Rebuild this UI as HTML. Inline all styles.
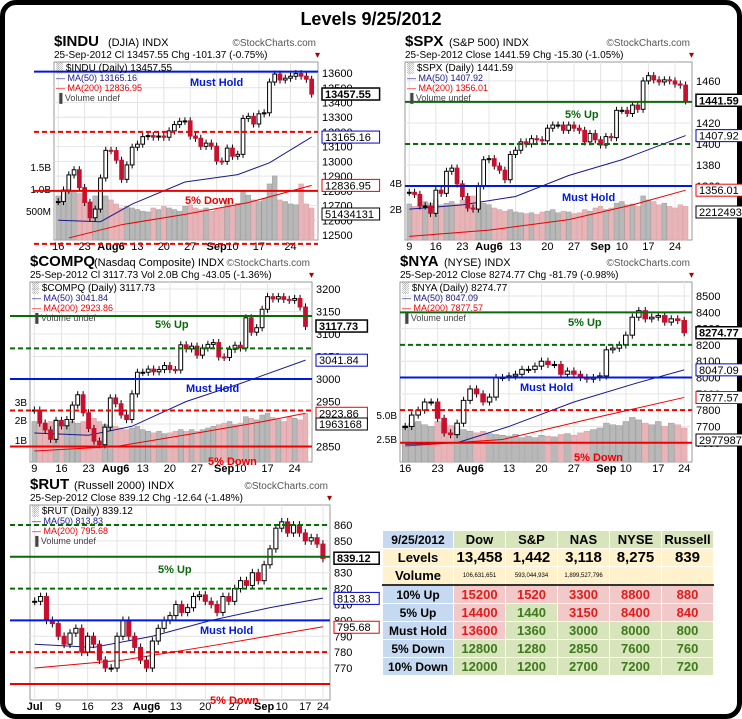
<!DOCTYPE html>
<html><head><meta charset="utf-8">
<style>
body{margin:0;background:#fff;width:742px;height:719px;overflow:hidden;font-family:"Liberation Sans",sans-serif}
#frame{position:absolute;left:0;top:0;width:732px;height:709px;border:5px solid #000;border-radius:16px;background:#fff}
#title{position:absolute;left:0;width:742px;top:9px;text-align:center;font-weight:bold;font-size:18px}
svg{position:absolute;left:0;top:0}
table{position:absolute;left:382px;top:530px;border-collapse:collapse;font-family:"Liberation Sans",sans-serif;font-weight:bold}
td{border:1px solid #fff;text-align:center;padding:0;height:17px;font-size:13px}
.lb{background:#c5d9f1;width:70px;color:#000;font-size:12px}
.hd{background:#d8e4bc;width:51px;font-size:13px}
.lv{background:#fff2cc;font-size:15px}
.vo{background:#fff2cc;font-size:6px;font-weight:normal}
.r{background:#f2c9c9;color:#e31b1b}
.g{background:#d8e4bc;color:#3c7a1a}
</style></head><body>
<div id="frame"></div>
<div id="title">Levels 9/25/2012</div>
<svg id="s" width="742" height="719"></svg>
<table>
<tr><td class="lb" style="background:#c5d9f1">9/25/2012</td><td class="hd">Dow</td><td class="hd">S&amp;P</td><td class="hd">NAS</td><td class="hd">NYSE</td><td class="hd">Russell</td></tr>
<tr><td class="lb" style="background:#fff2cc;font-size:13px">Levels</td><td class="lv">13,458</td><td class="lv">1,442</td><td class="lv">3,118</td><td class="lv">8,275</td><td class="lv">839</td></tr>
<tr style="border-bottom:2px solid #333"><td class="lb" style="background:#fff2cc;font-size:13px">Volume</td><td class="vo">106,631,651</td><td class="vo">593,044,934</td><td class="vo">1,899,527,796</td><td class="vo"></td><td class="vo"></td></tr>
<tr><td class="lb">10% Up</td><td class="r">15200</td><td class="r">1520</td><td class="r">3300</td><td class="r">8800</td><td class="r">880</td></tr>
<tr><td class="lb">5% Up</td><td class="r">14400</td><td class="g">1440</td><td class="r">3150</td><td class="r">8400</td><td class="r">840</td></tr>
<tr><td class="lb">Must Hold</td><td class="r">13600</td><td class="g">1360</td><td class="g">3000</td><td class="g">8000</td><td class="g">800</td></tr>
<tr><td class="lb">5% Down</td><td class="g">12800</td><td class="g">1280</td><td class="g">2850</td><td class="g">7600</td><td class="g">760</td></tr>
<tr><td class="lb">10% Down</td><td class="g">12000</td><td class="g">1200</td><td class="g">2700</td><td class="g">7200</td><td class="g">720</td></tr>
</table>
<script>
// ---- data ----
const induCloses=[12727,12805,12908,12943,12822,12721,12617,12676,12887,13075,13073,13008,12878,12976,13096,13117,13168,13175,13165,13172,13164,13207,13250,13272,13275,13172,13157,13102,13124,13103,13002,13000,13090,13035,13048,13292,13306,13254,13323,13330,13539,13593,13553,13565,13578,13596,13579,13558,13457];
const induVol=[55,60,62,60,58,50,48,55,62,55,50,45,40,42,40,38,36,35,40,38,42,40,38,36,42,44,40,38,40,36,38,40,50,44,46,60,56,50,48,52,70,80,50,48,45,44,70,45,40];
const induMa50=[[0,12600],[8,12590],[14,12710],[24,12860],[34,12910],[40,12990],[48,13165]];
const induMa200=[[2,12480],[12,12570],[24,12640],[36,12720],[48,12837]];
const spxCloses=[1354,1352,1341,1341,1334,1356,1353,1374,1377,1362,1350,1339,1338,1360,1385,1386,1379,1375,1366,1390,1394,1402,1400,1405,1404,1403,1415,1418,1418,1413,1418,1415,1413,1402,1410,1404,1399,1407,1406,1432,1432,1429,1437,1433,1460,1465,1461,1459,1461,1460,1457,1456,1441];
const spxVol=[45,42,44,48,46,50,44,46,48,45,50,52,55,48,46,44,40,38,36,38,35,34,33,34,32,35,36,38,34,36,35,33,34,38,36,40,42,38,40,46,48,44,45,42,55,50,48,44,46,42,40,44,42];
const spxMa50=[[0,1338],[10,1342],[20,1350],[30,1370],[40,1385],[52,1408]];
const spxMa200=[[0,1312],[15,1318],[30,1328],[42,1342],[52,1356]];
const compCloses=[2931,2902,2887,2866,2908,2896,2910,2942,2965,2925,2890,2862,2854,2893,2958,2945,2920,2910,2967,3015,3015,3022,3016,3021,3030,3021,3020,3076,3067,3073,3053,3069,3077,3081,3049,3048,3066,3075,3069,3136,3104,3114,3155,3183,3178,3183,3177,3175,3179,3160,3117];
const compVol=[50,48,46,50,52,48,46,50,48,50,52,54,50,46,45,44,42,40,42,44,40,38,36,38,35,36,38,40,38,40,38,40,42,44,46,48,50,46,48,56,54,52,58,60,55,52,50,56,54,52,60];
const compMa50=[[0,2880],[10,2875],[18,2895],[28,2950],[38,2990],[50,3042]];
const compMa200=[[0,2840],[15,2850],[30,2880],[42,2905],[50,2924]];
const nyaCloses=[7700,7770,7800,7850,7850,7750,7660,7650,7720,7860,7930,7900,7850,7880,8000,8000,8010,8020,8050,8050,8070,8100,8080,8080,8020,8040,8020,8000,7990,8000,8010,8170,8180,8200,8260,8370,8410,8360,8370,8380,8340,8360,8350,8275];
const nyaVol=[45,48,50,46,44,50,48,45,44,40,38,36,38,35,34,33,32,34,30,32,30,33,32,31,34,35,33,36,38,40,42,48,46,45,50,55,52,48,46,50,44,48,46,42];
const nyaMa50=[[0,7590],[8,7600],[16,7700],[26,7850],[36,7970],[43,8047]];
const nyaMa200=[[0,7580],[15,7620],[30,7760],[43,7878]];
const rutCloses=[812,815,800,798,790,785,792,795,780,790,785,775,770,770,790,800,790,783,775,770,787,795,800,803,810,805,808,815,816,812,810,805,815,812,820,825,822,830,825,835,845,858,862,855,860,855,850,852,848,839];
const rutMa50=[[0,785],[10,783],[20,790],[30,800],[40,808],[49,814]];
const rutMa200=[[0,770],[15,775],[30,784],[49,796]];

const charts=[
 {id:'indu',x0:54,x1:318,top:62,bot:240,vmax:13675,vmin:12466,closes:induCloses,vol:induVol,ma50:induMa50,ma200:induMa200,
  ticks:[12500,12600,12700,12800,12900,13000,13100,13200,13300,13400,13500,13600],
  xl:[[0,'16'],[5,'23'],[10,'Aug6'],[15,'13'],[20,'20'],[25,'27'],[30,'Sep'],[33,'10'],[38,'17'],[44,'24']],
  levels:[[13610,'#0018e0',0,'Must Hold',190,86],[13200,'#e00',1,'',0,0],[12800,'#e00',0,'5% Down',185,204],[12440,'#e00',1,'',0,0]],
  vlab:[['1.5B',171],['1.0B',193],['500M',215]],
  tags:[[13457.55,'13457.55','#000',1],[13165.16,'13165.16','#00c',0],[12836.95,'12836.95','#e00',0],[0,'51434131','#000',0,214]],
  sym:'$INDU',nm:'(DJIA) INDX',l2:'25-Sep-2012   Cl 13457.55  Chg -101.37 (-0.75%)',leg:['$INDU (Daily) 13457.55','MA(50) 13165.16','MA(200) 12836.95'],hy:36},
 {id:'spx',x0:405,x1:692,top:62,bot:240,vmax:1478,vmin:1308.6,closes:spxCloses,vol:spxVol,ma50:spxMa50,ma200:spxMa200,
  ticks:[1360,1380,1400,1420,1440,1460],
  xl:[[0,'9'],[5,'16'],[10,'23'],[15,'Aug6'],[20,'13'],[26,'20'],[31,'27'],[36,'Sep'],[40,'10'],[45,'17'],[50,'24']],
  levels:[[1440,'#0a6a0a',0,'5% Up',565,118],[1400,'#0a6a0a',1,'',0,0],[1360,'#0018e0',0,'Must Hold',562,201]],
  vlab:[['4B',187],['2B',213]],
  tags:[[1441.59,'1441.59','#000',1],[1407.92,'1407.92','#00c',0],[1356.01,'1356.01','#e00',0],[0,'2212493','#000',0,212]],
  sym:'$SPX',nm:'(S&P 500) INDX',l2:'25-Sep-2012  Close 1441.59  Chg -15.30 (-1.05%)',leg:['$SPX (Daily) 1441.59','MA(50) 1407.92','MA(200) 1356.01'],hy:36},
 {id:'comp',x0:30,x1:312,top:282,bot:462,vmax:3215.6,vmin:2815.6,closes:compCloses,vol:compVol,ma50:compMa50,ma200:compMa200,
  ticks:[2850,2900,2950,3000,3050,3100,3150,3200],
  xl:[[0,'9'],[5,'16'],[10,'23'],[15,'Aug6'],[20,'13'],[25,'20'],[30,'27'],[35,'Sep'],[38,'10'],[43,'17'],[48,'24']],
  levels:[[3140,'#0a6a0a',0,'5% Up',155,328],[3068,'#0a6a0a',1,'',0,0],[3000,'#0018e0',0,'Must Hold',186,392],[2930,'#e00',1,'',0,0],[2850,'#e00',0,'5% Down',208,465]],
  vlab:[['3B',406],['2B',424],['1B',444]],
  tags:[[3117.73,'3117.73','#000',1],[3041.84,'3041.84','#00c',0],[2923.86,'2923.86','#e00',0],[0,'1963168','#000',0,424]],
  sym:'$COMPQ',nm:'(Nasdaq Composite) INDX',l2:'25-Sep-2012  Cl 3117.73  Vol 2.0B  Chg -43.05 (-1.36%)',leg:['$COMPQ (Daily) 3117.73','MA(50) 3041.84','MA(200) 2923.86'],hy:256},
 {id:'nya',x0:400,x1:692,top:282,bot:462,vmax:8586,vmin:7482,closes:nyaCloses,vol:nyaVol,ma50:nyaMa50,ma200:nyaMa200,
  ticks:[7600,7700,7800,7900,8000,8100,8200,8300,8400,8500],
  xl:[[0,'16'],[5,'23'],[10,'Aug6'],[16,'13'],[21,'20'],[26,'27'],[31,'Sep'],[34,'10'],[39,'17'],[43,'24']],
  levels:[[8400,'#0a6a0a',0,'5% Up',568,326],[8200,'#0a6a0a',1,'',0,0],[8000,'#0018e0',0,'Must Hold',520,391],[7800,'#e00',1,'',0,0],[7600,'#e00',0,'5% Down',574,461]],
  vlab:[['5.0B',419],['2.5B',443]],
  tags:[[8274.77,'8274.77','#000',1],[8047.09,'8047.09','#00c',0],[7877.57,'7877.57','#e00',0],[0,'2977987','#000',0,440]],
  sym:'$NYA',nm:'(NYSE) INDX',l2:'25-Sep-2012  Close 8274.77  Chg -81.79 (-0.98%)',leg:['$NYA (Daily) 8274.77','MA(50) 8047.09','MA(200) 7877.57'],hy:256},
 {id:'rut',x0:30,x1:330,top:505,bot:700,vmax:872.6,vmin:749.9,closes:rutCloses,vol:null,ma50:rutMa50,ma200:rutMa200,
  ticks:[770,780,790,800,810,820,830,840,850,860],
  xl:[[0,'Jul'],[4,'9'],[9,'16'],[14,'23'],[19,'Aug6'],[24,'13'],[29,'20'],[34,'27'],[39,'Sep'],[42,'10'],[46,'17'],[49,'24']],
  levels:[[860,'#0a6a0a',1,'',0,0],[840,'#0a6a0a',0,'5% Up',158,573],[820,'#0a6a0a',1,'',0,0],[800,'#0018e0',0,'Must Hold',200,634],[780,'#e00',1,'',0,0],[760,'#e00',0,'5% Down',210,704]],
  vlab:[],
  tags:[[839.12,'839.12','#000',1],[813.83,'813.83','#00c',0],[795.68,'795.68','#e00',0]],
  sym:'$RUT',nm:'(Russell 2000) INDX',l2:'25-Sep-2012  Close 839.12  Chg -12.64 (-1.48%)',leg:['$RUT (Daily) 839.12','MA(50) 813.83','MA(200) 795.68'],hy:479}
];
const S=document.getElementById('s');const NS='http://www.w3.org/2000/svg';
function mk(t,a,p){const e=document.createElementNS(NS,t);for(const k in a)e.setAttribute(k,a[k]);(p||S).appendChild(e);return e;}
function txt(x,y,s,a,p){const e=mk('text',Object.assign({x:x,y:y,'font-family':'Liberation Sans, sans-serif','font-size':10},a),p);e.textContent=s;return e;}
charts.forEach(c=>{
 const g=mk('g',{});
 
 
 const n=c.closes.length,W=c.x1-c.x0,H=c.bot-c.top,step=W/(n+1);
 const X=i=>c.x0+step*(i+0.8);
 const Y=v=>c.top+(c.vmax-v)/(c.vmax-c.vmin)*H;
 mk('rect',{x:c.x0,y:c.top,width:W,height:H,fill:'#fff',stroke:'#999'},g);
 c.ticks.forEach(t=>{const y=Y(t);if(y<c.top||y>c.bot)return;mk('line',{x1:c.x0,x2:c.x1,y1:y,y2:y,stroke:'#e4e4e4'},g);txt(c.x1+4,y+4,String(t),{'font-size':11},g);});
 c.xl.forEach(([i,l])=>{mk('line',{x1:X(i),x2:X(i),y1:c.top,y2:c.bot,stroke:'#e4e4e4'},g);txt(X(i),c.bot+10,l,{'font-size':11,'text-anchor':'middle','font-weight':/Aug|Sep|Jul/.test(l)?'bold':'normal'},g);});
 if(c.vol){c.vol.forEach((v,i)=>{const h=v/100*H*0.45;const up=i==0||c.closes[i]>=c.closes[i-1];
   const b=mk('rect',{x:X(i)-step*0.45,y:c.bot-h,width:step*0.9,height:h,fill:up?'#b8b8b8':'#e8b4b8',stroke:up?'#999':'#d9a0a4','stroke-width':0.5},g);
   });}
 c.vlab.forEach(([l,y])=>txt(c.x0-3,y,l,{'font-size':10,'text-anchor':'end'},g));
 const pl=(pts,col)=>{const l=mk('polyline',{points:pts.map(([i,v])=>X(i)+','+Y(v)).join(' '),fill:'none',stroke:col,'stroke-width':1},g);return l;};
 pl(c.ma200,'#e00');
 pl(c.ma50,'#1a1a8c');
 c.closes.forEach((cl,i)=>{const op=i?c.closes[i-1]:cl;const hi=Math.max(cl,op),lo=Math.min(cl,op);const rng=(c.vmax-c.vmin)*0.02;
   const up=cl>=op;mk('line',{x1:X(i),x2:X(i),y1:Y(hi+rng),y2:Y(lo-rng),stroke:'#000'},g);
   const r=mk('rect',{x:X(i)-step*0.35,y:Y(hi),width:step*0.7,height:Math.max(1,Y(lo)-Y(hi)),fill:up?'#fff':'#c8102e',stroke:up?'#000':'#c8102e'},g);
   });
 c.levels.forEach(([v,col,dash,lab,lx,ly])=>{const y=Y(v);
   mk('line',{x1:c.x0-(c.id=='spx'||c.id=='nya'?0:20),x2:c.x1,y1:y,y2:y,stroke:col,'stroke-width':2,'stroke-dasharray':dash?'5,3':'none'},g);
   if(lab)txt(lx,ly,lab,{'font-size':11,'font-weight':'bold',fill:col},g);});
 c.tags.forEach(([v,l,col,b,yy])=>{const y=yy||Y(v);const w=l.length*6.2+8;
   mk('rect',{x:c.x1+4,y:y-6,width:w,height:12,fill:'#fff',stroke:col,'stroke-width':b?1.5:1},g);
   txt(c.x1+7,y+4,l,{'font-size':11,'font-weight':b?'bold':'normal'},g);});
 txt(c.x0+2,c.top+9,'\u2591 '+c.leg[0],{'font-size':10},g);
 txt(c.x0+2,c.top+19,'\u2014 '+c.leg[1],{'font-size':9,fill:'#1a1a8c'},g);
 txt(c.x0+2,c.top+29,'\u2014 '+c.leg[2],{'font-size':9,fill:'#e00'},g);
 txt(c.x0+2,c.top+39,'\u2590 Volume undef',{'font-size':9,fill:'#444'},g);
 const hx=c.x0;txt(hx,c.hy+10,c.sym,{'font-size':15,'font-weight':'bold'},g);
 txt(hx+c.sym.length*10+4,c.hy+10,c.nm,{'font-size':11},g);
 txt(c.x1-2,c.hy+10,'\u00a9StockCharts.com',{'font-size':10,fill:'#555','text-anchor':'end'},g);
 txt(hx,c.hy+22,c.l2,{'font-size':10},g);
 txt(c.x1+2,c.hy+22,'\u25BE',{'font-size':10,fill:'#a00','text-anchor':'end'},g);
});
</script>
</body></html>
